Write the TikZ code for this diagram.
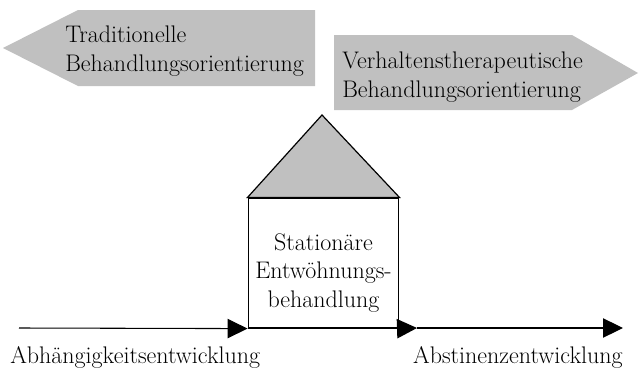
\documentclass[tikz,border=0pt]{standalone}
\usepackage{tikz}
\usetikzlibrary{arrows.meta}
\definecolor{silber}{RGB}{192,192,192}
\tikzstyle{flow} = [line width=0.8pt,-{Triangle[length=15pt,width=14.5pt]}]
\tikzstyle{caption} = [inner sep=0pt,align=left,font=\fontsize{18}{21.5}\selectfont]
\tikzstyle{house} = [draw,line width=0.9pt]

\begin{document}
\begin{tikzpicture}[x=0.75pt,y=-0.75pt]
        \useasboundingbox (0,0) rectangle (639,371);
        % grey direction arrows
        \fill[silber] (3,48) -- (78,10) -- (315,10) -- (315,86) -- (78,86) -- cycle;
        \fill[silber] (334,35) -- (572,35) -- (638,73) -- (572,110) -- (334,110) -- cycle;
        \node[caption, anchor=west] at (65,51) (trad) {Traditionelle\\Behandlungsorientierung};
        \node[caption, anchor=west] at (342,77) (verh) {Verhaltenstherapeutische\\Behandlungsorientierung};

        % house
        \node[house, fill=white, minimum width=113pt, minimum height=97.5pt, inner sep=0pt] at (323.5,263) (box) {};
        \filldraw[house, fill=silber] (box.north west) -- (322,115) -- (box.north east) -- cycle;
        \node[caption, align=center] at (323.5,273) (stat) {Station\"are\\Entw\"ohnungs-\\behandlung};

        % time line
        \coordinate (start) at (19,328);
        \coordinate (mid) at (417,328);
        \coordinate (end) at (623,328);
        \draw[flow] (start) -- (box.south west);
        \draw[flow] (box.south east) -- (mid);
        \draw[flow] (mid) -- (end);
        \node[caption, anchor=west] at (10,357) (abh) {Abh\"angigkeitsentwicklung};
        \node[caption, anchor=east] at (623,357) (abst) {Abstinenzentwicklung};

    \end{tikzpicture}
\end{document}
